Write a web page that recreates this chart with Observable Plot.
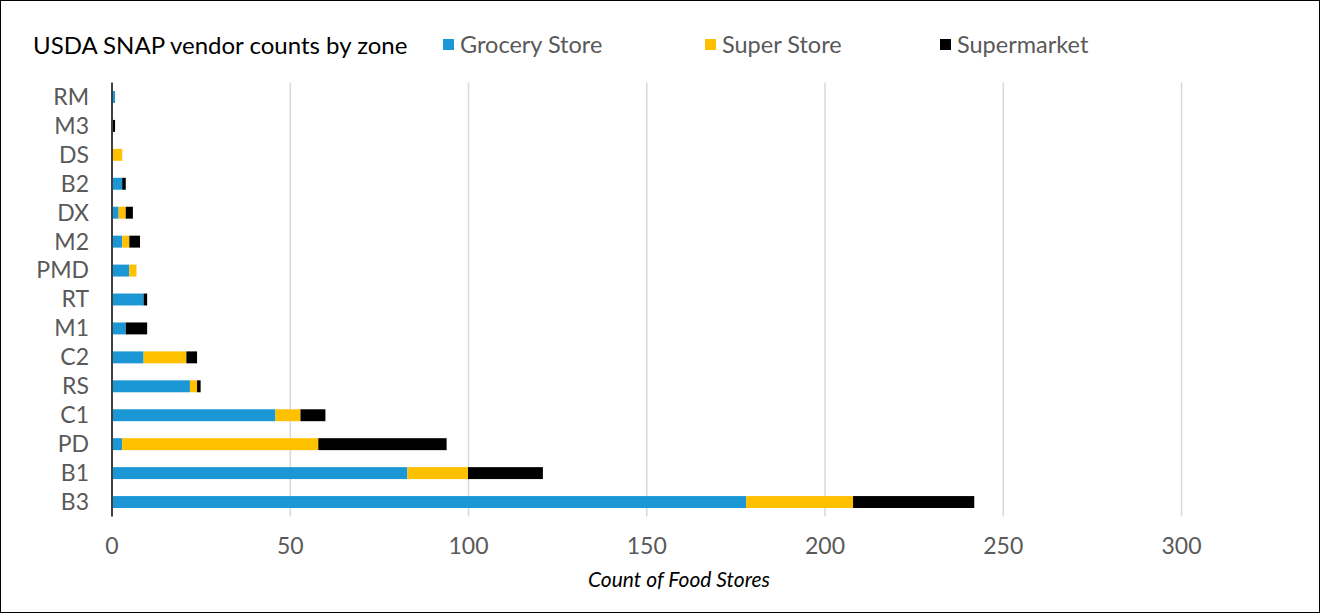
<!DOCTYPE html>
<html>
<head>
<meta charset="utf-8">
<script src="https://cdn.jsdelivr.net/npm/d3@7"></script>
<script src="https://cdn.jsdelivr.net/npm/@observablehq/plot@0.6"></script>
<style>
  html, body { margin: 0; padding: 0; background: #fff; }
  #wrap {
    position: relative; width: 1320px; height: 613px; box-sizing: border-box;
    border: 1.5px solid #000; background: #fff; overflow: hidden;
    font-family: Lato, "Noto Sans", sans-serif;
  }
  #chart { position: absolute; left: 0; top: 0; }
  .title { position: absolute; left: 32px; top: 29px; font-size: 24px; color: #000; white-space: nowrap; }
  .leg { position: absolute; top: 29px; font-size: 23.5px; color: #595959; white-space: nowrap; }
  .leg i { display: inline-block; width: 11px; height: 11px; margin-right: 6px; vertical-align: 3px; }
  .xtitle { position: absolute; top: 565px; left: 0; width: 1356px; text-align: center; font-style: italic; font-size: 21px; color: #000; }
</style>
</head>
<body>
<div id="wrap">
  <div id="chart"></div>
  <div class="title">USDA SNAP vendor counts by zone</div>
  <div id="legend"></div>
  <div class="xtitle">Count of Food Stores</div>
</div>
<script>
const zones = ["RM","M3","DS","B2","DX","M2","PMD","RT","M1","C2","RS","C1","PD","B1","B3"];
const groceryStore = [1,0,0,3,2,3,5,9,4,9,22,46,3,83,178];
const superStore   = [0,0,3,0,2,2,2,0,0,12,2,7,55,17,30];
const supermarket  = [0,1,0,1,2,3,0,1,6,3,1,7,36,21,34];
const seriesNames  = ["Grocery Store","Super Store","Supermarket"];
const seriesColors = ["#1a97d4","#ffc000","#000000"];
const xTicks = [0,50,100,150,200,250,300];
const legendLeft = [442, 704, 939];

const seriesValues = [groceryStore, superStore, supermarket];
const data = [];
zones.forEach((z, i) => {
  seriesNames.forEach((s, k) => data.push({zone: z, type: s, value: seriesValues[k][i]}));
});

const chart = Plot.plot({
  width: 1317,
  height: 610,
  marginLeft: 110.5,
  marginRight: 30,
  marginTop: 81.5,
  marginBottom: 94.5,
  style: {fontFamily: "Lato, 'Noto Sans', sans-serif", fontSize: "23px", color: "#595959", background: "transparent"},
  x: {domain: [0, 330], ticks: xTicks, tickSize: 0, tickPadding: 21, label: null},
  y: {domain: zones, padding: 0, round: false, tickSize: 0, tickPadding: 23, label: null},
  color: {domain: seriesNames, range: seriesColors},
  marks: [
    Plot.ruleX(xTicks.slice(1), {stroke: "#d9d9d9", strokeWidth: 1.5}),
    Plot.barX(data, Plot.stackX({x: "value", y: "zone", fill: "type", insetTop: 8.5, insetBottom: 8.5})),
    Plot.ruleX([0], {stroke: "#404040", strokeWidth: 2})
  ]
});
document.getElementById("chart").appendChild(chart);

const legend = document.getElementById("legend");
seriesNames.forEach((s, k) => {
  const d = document.createElement("div");
  d.className = "leg";
  d.style.left = legendLeft[k] + "px";
  d.innerHTML = `<i style="background:${seriesColors[k]}"></i>${s}`;
  legend.appendChild(d);
});
</script>
</body>
</html>
